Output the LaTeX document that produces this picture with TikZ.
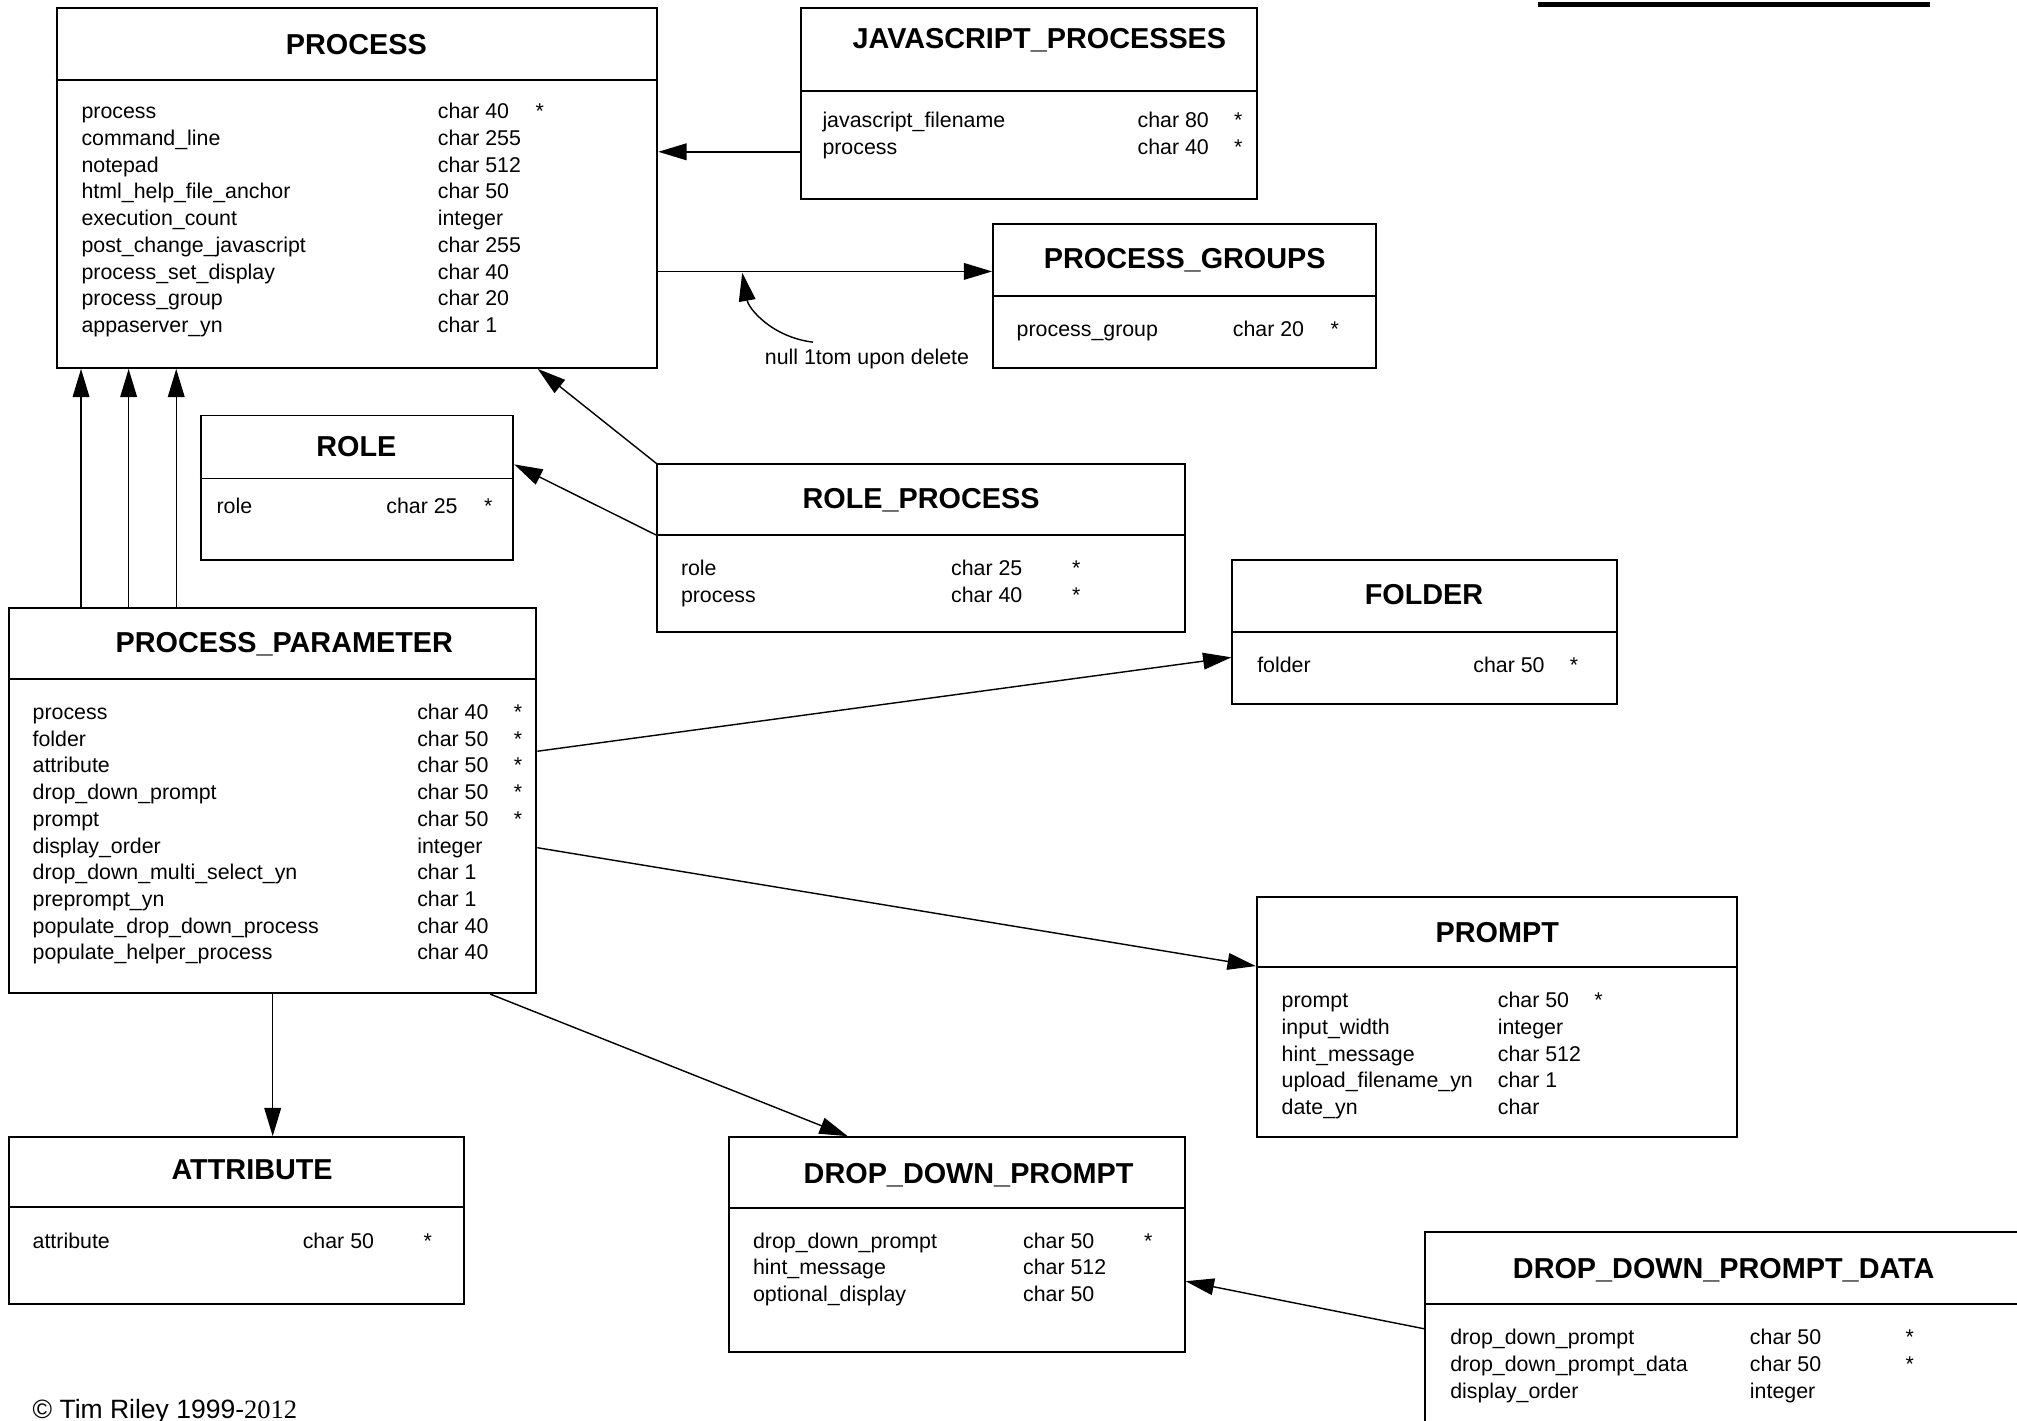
\documentclass[tikz,border=0pt]{standalone}
\usepackage{fontspec}
\setmainfont{Liberation Sans}
\newfontfamily\yearfont{Liberation Serif}
\usetikzlibrary{arrows.meta,fit,calc}
\tikzset{
  tablebox/.style={draw, line width=0.75pt, inner sep=0pt},
  tableline/.style={line width=0.75pt},
  tabletitle/.style={font=\fontsize{11.2}{13}\selectfont\bfseries, anchor=base, inner sep=0pt},
  field/.style={font=\fontsize{8.3}{10}\selectfont, anchor=base west, inner sep=0pt, yshift=-0.7pt},
  notetext/.style={font=\fontsize{8.3}{10}\selectfont, anchor=base, inner sep=0pt},
  fk/.style={-{Triangle[length=11pt,width=6.5pt]}, line width=0.55pt}
}
% box with header line: name, x1, y1, x2, y2, header y
\newcommand{\ertable}[6]{%
  \node[tablebox, fit={(#2,#3) (#4,#5)}] (#1) {};
  \draw[tableline] (#1.west |- 0,#6) -- (#1.east |- 0,#6);
}
% columns: name, field x, type x, key x, first baseline, rows
\newcommand{\tablerows}[6]{%
  \foreach \fld/\typ/\key [count=\i from 0] in {#6} {
    \node[field] (#1-f\i) at (#2,#5+\i*20.75) {\fld};
    \node[field] (#1-t\i) at (#3,#5+\i*20.75) {\typ};
    \node[field] (#1-k\i) at (#4,#5+\i*20.75) {\key};
  }%
}

\begin{document}
\begin{tikzpicture}[x=0.5pt, y=-0.5pt]
  \useasboundingbox (0,0) rectangle (1568,1104);

  % tables
  \ertable{process}{44}{6}{511}{286}{62}
  \node[tabletitle] (process-title) at (277,42) {PROCESS};
  \tablerows{process}{63}{340}{416}{91}{process/char 40/*, command\_line/char 255/,
    notepad/char 512/, html\_help\_file\_anchor/char 50/, execution\_count/integer/,
    post\_change\_javascript/char 255/, process\_set\_display/char 40/,
    process\_group/char 20/, appaserver\_yn/char 1/}

  \ertable{jsp}{623}{6}{977}{155}{71}
  \node[tabletitle] (jsp-title) at (808,38) {JAVASCRIPT\_PROCESSES};
  \tablerows{jsp}{639}{884}{959}{98}{javascript\_filename/char 80/*, process/char 40/*}

  \ertable{pgroups}{772}{174}{1070}{286}{230}
  \node[tabletitle] (pgroups-title) at (921,209) {PROCESS\_GROUPS};
  \tablerows{pgroups}{790}{958}{1034}{260}{process\_group/char 20/*}

  \ertable{role}{156}{323}{399}{435}{372}
  \node[tabletitle] (role-title) at (277,355) {ROLE};
  \tablerows{role}{168}{300}{376}{398}{role/char 25/*}

  \ertable{roleproc}{511}{361}{921}{491}{416}
  \node[tabletitle] (roleproc-title) at (716,395) {ROLE\_PROCESS};
  \tablerows{roleproc}{529}{739}{833}{446}{role/char 25/*, process/char 40/*}

  \ertable{folder}{958}{435}{1257}{547}{491}
  \node[tabletitle] (folder-title) at (1107,470) {FOLDER};
  \tablerows{folder}{977}{1145}{1220}{521}{folder/char 50/*}

  \ertable{pparam}{7}{473}{417}{772}{528}
  \node[tabletitle] (pparam-title) at (221,507) {PROCESS\_PARAMETER};
  \tablerows{pparam}{25}{324}{399}{558}{process/char 40/*, folder/char 50/*,
    attribute/char 50/*, drop\_down\_prompt/char 50/*, prompt/char 50/*,
    display\_order/integer/, drop\_down\_multi\_select\_yn/char 1/,
    preprompt\_yn/char 1/, populate\_drop\_down\_process/char 40/,
    populate\_helper\_process/char 40/}

  \ertable{prompt}{977}{697}{1350}{884}{752}
  \node[tabletitle] (prompt-title) at (1164,733) {PROMPT};
  \tablerows{prompt}{996}{1164}{1239}{782}{prompt/char 50/*, input\_width/integer/,
    hint\_message/char 512/, upload\_filename\_yn/char 1/, date\_yn/char/}

  \ertable{attribute}{7}{884}{361}{1014}{938}
  \node[tabletitle] (attribute-title) at (196,917) {ATTRIBUTE};
  \tablerows{attribute}{25}{235}{329}{969}{attribute/char 50/*}

  \ertable{ddprompt}{567}{884}{921}{1051}{939}
  \node[tabletitle] (ddprompt-title) at (753,920) {DROP\_DOWN\_PROMPT};
  \tablerows{ddprompt}{585}{795}{889}{969}{drop\_down\_prompt/char 50/*,
    hint\_message/char 512/, optional\_display/char 50/}

  \ertable{ddpdata}{1108}{958}{1575}{1112}{1014}
  \node[tabletitle] (ddpdata-title) at (1340,994) {DROP\_DOWN\_PROMPT\_DATA};
  \tablerows{ddpdata}{1127}{1360}{1481}{1044}{drop\_down\_prompt/char 50/*,
    drop\_down\_prompt\_data/char 50/*, display\_order/integer/}

  % relations
  \draw[fk] (jsp.west |- 0,118) -- (process.east |- 0,118);
  \draw[fk] (process.east |- 0,211) -- (pgroups.west |- 0,211);
  \node[notetext] (nullnote) at (674,283) {null 1tom upon delete};
  \coordinate (nullstart) at (632,266);
  \coordinate (nulltip) at (577,212);
  \draw[fk] (nullstart) .. controls (600,262) and (582,240) .. (nulltip);
  \draw[fk] (roleproc.north west) -- (process.south -| 418,0);
  \draw[fk] (roleproc.west |- 0,416) -- (role.east |- 0,361);
  \foreach \x in {63,100,137}
    \draw[fk] (pparam.north -| \x,0) -- (process.south -| \x,0);
  \draw[fk] (pparam.east |- 0,584) -- (folder.west |- 0,511);
  \draw[fk] (pparam.east |- 0,659) -- (prompt.west |- 0,751);
  \draw[fk] (pparam.south -| 212,0) -- (attribute.north -| 212,0);
  \draw[fk] (pparam.south -| 381,0) -- (ddprompt.north -| 659,0);
  \draw[fk] (ddpdata.west |- 0,1033) -- (ddprompt.east |- 0,996);

  % footer and cut-off rule at top right
  \node[field, font=\fontsize{10.3}{12}\selectfont] (copyright) at (25,1101)
    {© Tim Riley 1999-{\yearfont 2012}};
  \fill (1196,1.5) rectangle (1500,5.5);
\end{tikzpicture}
\end{document}
